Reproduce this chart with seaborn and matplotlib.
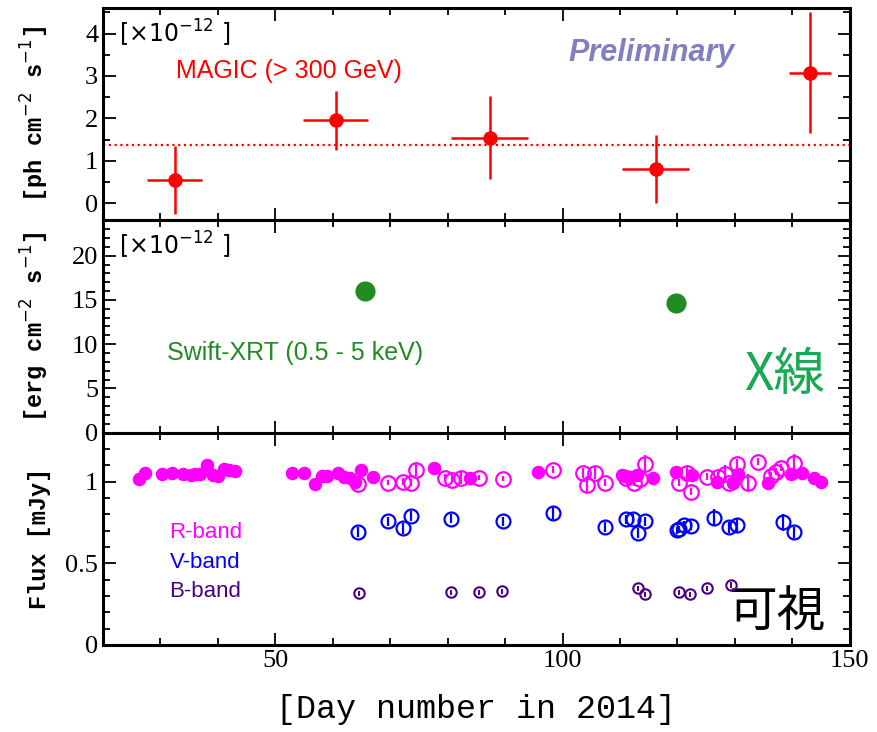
import numpy as np
import pandas as pd
import matplotlib
matplotlib.use("Agg")
import matplotlib.pyplot as plt
import seaborn as sns
from matplotlib.ticker import MultipleLocator

# ---------------- data ----------------
magic_day = [32.5, 60.5, 87.3, 116.2, 143.1]
magic_dayerr = [4.8, 5.7, 6.7, 5.8, 3.7]
magic_flux = [0.55, 1.97, 1.55, 0.80, 3.08]
magic_lo = [0.80, 0.72, 0.98, 0.80, 1.43]
magic_hi = [0.80, 0.68, 0.97, 0.80, 1.42]
magic_mean = 1.38

xrt_day = [65.6, 119.8]
xrt_flux = [16.0, 14.7]

r_fill_day = [26.3, 27.3, 30.3, 32.0, 33.9, 35.3, 36.0, 36.9, 38.1, 39.1, 40.0, 41.0,
              41.9, 43.0, 52.9, 55.0, 56.9, 58.1, 59.0, 60.9, 61.9, 63.0, 63.8, 64.9,
              67.0, 77.7, 83.8, 95.8, 110.4, 110.8, 111.7, 112.9, 115.7, 119.8, 122.6,
              126.8, 129.7, 130.6, 135.7, 139.8, 141.7, 143.7, 144.9]
r_fill_flux = [1.018, 1.055, 1.049, 1.055, 1.049, 1.043, 1.049, 1.049, 1.104, 1.043,
               1.037, 1.079, 1.073, 1.067, 1.055, 1.055, 0.988, 1.037, 1.037, 1.055,
               1.030, 1.024, 1.000, 1.073, 1.030, 1.085, 1.024, 1.061, 1.043, 1.037,
               1.030, 1.043, 1.024, 1.061, 1.043, 1.000, 0.994, 1.049, 0.994, 1.049,
               1.055, 1.024, 1.000]

r_open_day = [64.3, 69.6, 72.3, 73.6, 74.4, 79.5, 80.7, 82.4, 85.4, 89.6, 98.4, 103.5,
              104.2, 105.6, 107.3, 111.1, 112.5, 113.4, 114.4, 120.3, 121.6, 122.3,
              125.2, 127.1, 128.2, 129.0, 130.3, 132.2, 134.1, 136.3, 137.2, 138.1, 140.3]
r_open_flux = [0.988, 0.994, 1.000, 0.994, 1.073, 1.024, 1.012, 1.024, 1.024, 1.018,
               1.073, 1.055, 0.982, 1.055, 0.994, 1.024, 0.994, 1.018, 1.110, 0.994,
               1.055, 0.939, 1.030, 1.030, 1.049, 0.994, 1.110, 0.994, 1.122, 1.037,
               1.061, 1.085, 1.116]
r_open_err = [0.02, 0.015, 0.02, 0.02, 0.04, 0.02, 0.02, 0.04, 0.015, 0.015, 0.02, 0.03,
              0.05, 0.04, 0.02, 0.02, 0.02, 0.02, 0.05, 0.02, 0.04, 0.02, 0.02, 0.03,
              0.05, 0.03, 0.03, 0.05, 0.02, 0.02, 0.02, 0.02, 0.05]

v_day = [64.3, 69.6, 72.3, 73.6, 80.5, 89.6, 98.4, 107.3, 111.1, 112.3, 113.2, 114.4,
         120.0, 120.3, 121.2, 122.3, 126.3, 129.0, 130.3, 138.3, 140.3]
v_flux = [0.689, 0.756, 0.713, 0.787, 0.774, 0.756, 0.805, 0.720, 0.768, 0.774, 0.683,
          0.756, 0.701, 0.707, 0.732, 0.726, 0.780, 0.720, 0.732, 0.750, 0.689]
v_err = [0.03, 0.025, 0.035, 0.03, 0.025, 0.025, 0.045, 0.03, 0.025, 0.025, 0.03, 0.03,
         0.02, 0.02, 0.025, 0.025, 0.05, 0.035, 0.045, 0.05, 0.035]

b_day = [64.5, 80.5, 85.4, 89.4, 113.2, 114.3, 120.2, 122.1, 125.2, 129.4]
b_flux = [0.317, 0.323, 0.323, 0.329, 0.348, 0.311, 0.323, 0.311, 0.348, 0.366]
b_err = [0.015, 0.015, 0.015, 0.015, 0.015, 0.015, 0.015, 0.015, 0.015, 0.02]

# ---------------- style ----------------
sns.set_theme(style="ticks")
plt.rcParams['font.family'] = ['Liberation Serif', 'DejaVu Sans']
plt.rcParams.update({"text.color": "black", "axes.labelcolor": "black",
                     "xtick.color": "black", "ytick.color": "black",
                     "axes.edgecolor": "black"})

MAG = "#ff00ff"
BLU = "#0000ff"
PUR = "#4b0082"
RED = "#ff0000"
GRN = "#228b22"

fig, axes = plt.subplots(3, 1, figsize=(8.77, 7.32), dpi=100, sharex=True,
                         gridspec_kw=dict(hspace=0))
fig.subplots_adjust(left=0.1175, right=0.969, top=0.989, bottom=0.119)
ax1, ax2, ax3 = axes

for ax in axes:
    for sp in ax.spines.values():
        sp.set_linewidth(2.2)
        sp.set_color("black")
    ax.tick_params(which="both", direction="in", top=True, right=True, color="black",
                   labelcolor="black")
    ax.tick_params(which="major", length=9, width=1.3, labelsize=19)
    ax.tick_params(which="minor", length=5, width=1.3)
    ax.xaxis.set_major_locator(MultipleLocator(50))
    ax.xaxis.set_minor_locator(MultipleLocator(10))
ax1.set_xlim(20, 150)

# ---- top panel: MAGIC
mdf = pd.DataFrame(dict(day=magic_day, flux=magic_flux))
ax1.errorbar(magic_day, magic_flux, xerr=magic_dayerr, yerr=[magic_lo, magic_hi],
             fmt="none", ecolor=RED, elinewidth=1.8, capsize=0, zorder=2)
sns.scatterplot(data=mdf, x="day", y="flux", ax=ax1, color=RED, s=110,
                edgecolor=RED, linewidth=0, zorder=3, legend=False)
ax1.axhline(magic_mean, color=RED, ls=(0, (1, 1.6)), lw=1.6, zorder=1)
ax1.set_ylim(-0.4, 4.6)
ax1.yaxis.set_major_locator(MultipleLocator(1))
ax1.yaxis.set_minor_locator(MultipleLocator(0.5))
ax1.set_ylabel("[ph cm$^{-2}$ s$^{-1}$]", family="Liberation Mono", fontweight="bold",
               fontsize=17, labelpad=10)
ax1.text(0.022, 0.955, "[×10$^{-12}$ ]", transform=ax1.transAxes, fontsize=17,
         va="top", ha="left", family="DejaVu Sans", color="black")
ax1.text(0.249, 0.705, "MAGIC (> 300 GeV)", transform=ax1.transAxes, color=RED,
         fontsize=18, family="Liberation Sans", ha="center", va="center")
ax1.text(0.735, 0.79, "Preliminary", transform=ax1.transAxes, color="#8080c0",
         fontsize=22, family="Liberation Sans", fontweight="bold", fontstyle="italic",
         ha="center", va="center")

# ---- middle panel: Swift-XRT
xdf = pd.DataFrame(dict(day=xrt_day, flux=xrt_flux))
sns.scatterplot(data=xdf, x="day", y="flux", ax=ax2, color=GRN, s=210,
                linewidth=0, legend=False)
ax2.set_ylim(0, 24)
ax2.yaxis.set_major_locator(MultipleLocator(5))
ax2.yaxis.set_minor_locator(MultipleLocator(1))
ax2.set_ylabel("[erg cm$^{-2}$ s$^{-1}$]", family="Liberation Mono", fontweight="bold",
               fontsize=17, labelpad=10)
ax2.text(0.022, 0.955, "[×10$^{-12}$ ]", transform=ax2.transAxes, fontsize=17,
         va="top", ha="left", family="DejaVu Sans", color="black")
ax2.text(0.257, 0.375, "Swift-XRT (0.5 - 5 keV)", transform=ax2.transAxes, color=GRN,
         fontsize=18, family="Liberation Sans", ha="center", va="center")
ax2.text(0.967, 0.27, "X線", transform=ax2.transAxes, color="#1aaa55", fontsize=37,
         family=["Noto Sans CJK JP", "DejaVu Sans"], ha="right", va="center")

# ---- bottom panel: optical
rdf = pd.DataFrame(dict(day=r_fill_day, flux=r_fill_flux))
sns.scatterplot(data=rdf, x="day", y="flux", ax=ax3, color=MAG, s=95,
                linewidth=0, legend=False, zorder=3)
ax3.errorbar(r_open_day, r_open_flux, yerr=r_open_err, fmt="o", mfc="none", mec=MAG,
             ecolor=MAG, ms=10.5, mew=1.6, elinewidth=1.6, capsize=0, zorder=3)
ax3.errorbar(v_day, v_flux, yerr=v_err, fmt="o", mfc="none", mec=BLU,
             ecolor=BLU, ms=10, mew=1.6, elinewidth=1.6, capsize=0, zorder=3)
ax3.errorbar(b_day, b_flux, yerr=b_err, fmt="o", mfc="none", mec=PUR,
             ecolor=PUR, ms=7.5, mew=1.5, elinewidth=1.4, capsize=0, zorder=3)
ax3.set_ylim(0, 1.3)
ax3.yaxis.set_major_locator(MultipleLocator(0.5))
ax3.yaxis.set_minor_locator(MultipleLocator(0.1))
ax3.set_yticks([0, 0.5, 1])
ax3.set_yticklabels(["0", "0.5", "1"])
ax3.set_ylabel("Flux [mJy]", family="Liberation Mono", fontweight="bold",
               fontsize=17, labelpad=10)
ax3.text(0.137, 0.53, "R-band", transform=ax3.transAxes, color=MAG, fontsize=16,
         family="Liberation Sans", ha="center", va="center")
ax3.text(0.137, 0.39, "V-band", transform=ax3.transAxes, color=BLU, fontsize=16,
         family="Liberation Sans", ha="center", va="center")
ax3.text(0.137, 0.25, "B-band", transform=ax3.transAxes, color=PUR, fontsize=16,
         family="Liberation Sans", ha="center", va="center")
ax3.text(0.967, 0.155, "可視", transform=ax3.transAxes, color="black", fontsize=35,
         family=["Noto Sans CJK JP", "DejaVu Sans"], ha="right", va="center")
ax3.set_xlabel("[Day number in 2014]", family="Liberation Mono", fontsize=24,
               labelpad=16)

for ax in (ax1, ax2):
    ax.set_xlabel("")
    ax.tick_params(labelbottom=False)

fig.align_ylabels(axes)
fig.savefig("out.png", dpi=100)
